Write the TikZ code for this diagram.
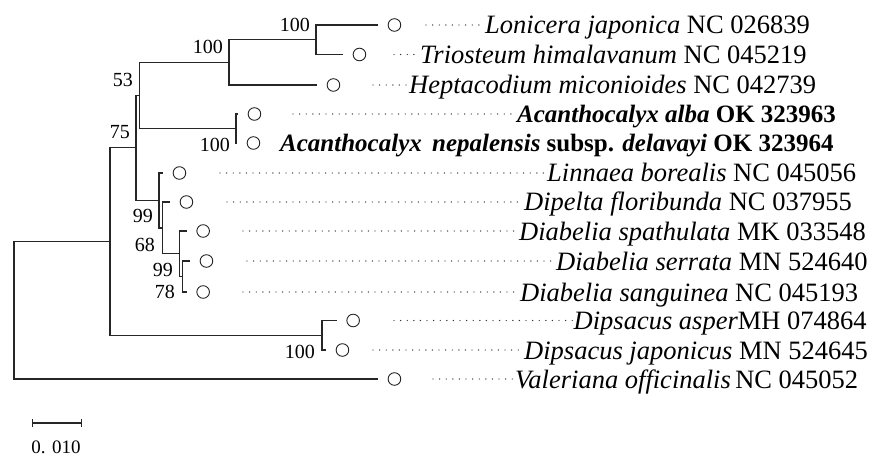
\documentclass[tikz,border=0pt]{standalone}
\usepackage{fontspec}
\setmainfont{Liberation Serif}
\usetikzlibrary{positioning,arrows.meta}

\begin{document}
\begin{tikzpicture}[x=1pt, y=-1pt,
    branch/.style={line width=1.2pt, draw=black!85},
    leaf/.style={circle, draw=black!85, line width=0.9pt, minimum size=12.6pt, inner sep=0pt},
    leader/.style={line width=1.4pt, dash pattern=on 0pt off 6.6pt, line cap=round, draw=black!80},
    taxon/.style={anchor=base west, inner sep=0pt, font=\fontsize{26.5}{28}\selectfont},
    ours/.style={taxon, font=\fontsize{25}{27}\selectfont\bfseries},
    boot/.style={anchor=east, inner sep=0pt, font=\fontsize{20}{22}\selectfont}]

  \fill[white] (0,0) rectangle (872,457);
  \useasboundingbox (0,0) rectangle (872,457);

  % internal nodes
  \coordinate (nR) at (14,310.3);
  \coordinate (nD) at (110,241.6);
  \coordinate (nB) at (136,147.9);
  \coordinate (nA) at (139.5,95.4);
  \coordinate (nE) at (229,62.4);
  \coordinate (nF) at (316,39.75);
  \coordinate (nG) at (236,128.5);
  \coordinate (nC) at (159,200.4);
  \coordinate (nH) at (162.7,227.9);
  \coordinate (nI) at (179.3,253.75);
  \coordinate (nJ) at (182.7,276.5);
  \coordinate (nK) at (322,335.25);

  % branch tips
  \coordinate (tLon) at (378,25);
  \coordinate (tTri) at (343,54.5);
  \coordinate (tHep) at (317,85);
  \coordinate (tAlb) at (238,114);
  \coordinate (tNep) at (237,143);
  \coordinate (tLin) at (163,173);
  \coordinate (tDip) at (170,202);
  \coordinate (tSpa) at (186.7,231);
  \coordinate (tSer) at (190,261);
  \coordinate (tSan) at (186.7,292);
  \coordinate (tAsp) at (336.7,320.5);
  \coordinate (tJap) at (326,350);
  \coordinate (tVal) at (378,379);

  % branches
  \draw[branch] (nR) |- (nD);
  \draw[branch] (nR) |- (tVal);
  \draw[branch] (nD) |- (nB);
  \draw[branch] (nD) |- (nK);
  \draw[branch] (nB) |- (nA);
  \draw[branch] (nB) |- (nC);
  \draw[branch] (nA) |- (nE);
  \draw[branch] (nA) |- (nG);
  \draw[branch] (nE) |- (nF);
  \draw[branch] (nE) |- (tHep);
  \draw[branch] (nF) |- (tLon);
  \draw[branch] (nF) |- (tTri);
  \draw[branch] (nG) |- (tAlb);
  \draw[branch] (nG) |- (tNep);
  \draw[branch] (nC) |- (tLin);
  \draw[branch] (nC) |- (nH);
  \draw[branch] (nH) |- (tDip);
  \draw[branch] (nH) |- (nI);
  \draw[branch] (nI) |- (tSpa);
  \draw[branch] (nI) |- (nJ);
  \draw[branch] (nJ) |- (tSer);
  \draw[branch] (nJ) |- (tSan);
  \draw[branch] (nK) |- (tAsp);
  \draw[branch] (nK) |- (tJap);

  % leaf markers
  \node[leaf, right=9.7pt of tLon] (cLon) {};
  \node[leaf, right=9.7pt of tTri] (cTri) {};
  \node[leaf, right=9.7pt of tHep] (cHep) {};
  \node[leaf, right=9.7pt of tAlb] (cAlb) {};
  \node[leaf, right=9.7pt of tNep] (cNep) {};
  \node[leaf, right=9.7pt of tLin] (cLin) {};
  \node[leaf, right=9.7pt of tDip] (cDip) {};
  \node[leaf, right=9.7pt of tSpa] (cSpa) {};
  \node[leaf, right=9.7pt of tSer] (cSer) {};
  \node[leaf, right=9.7pt of tSan] (cSan) {};
  \node[leaf, right=9.7pt of tAsp] (cAsp) {};
  \node[leaf, right=9.7pt of tJap] (cJap) {};
  \node[leaf, right=9.7pt of tVal] (cVal) {};

  % taxon names
  \node[taxon] (lLon) at (485,34) {\textit{Lonicera japonica} NC 026839};
  \node[taxon] (lTri) at (420,63.5) {\textit{Triosteum himalavanum} NC 045219};
  \node[taxon] (lHep) at (409,94) {\textit{Heptacodium miconioides} NC 042739};
  \node[ours] (lAlb) at (517,123) {\textit{Acanthocalyx alba} OK 323963};
  \node[ours] (lNep) at (280,152) {\textit{Acanthocalyx\hspace{4pt} nepalensis} subsp. \textit{delavayi} OK 323964};
  \node[taxon] (lLin) at (547,182) {\textit{Linnaea borealis} NC 045056};
  \node[taxon] (lDip) at (524,211) {\textit{Dipelta floribunda} NC 037955};
  \node[taxon] (lSpa) at (519,240) {\textit{Diabelia spathulata} MK 033548};
  \node[taxon] (lSer) at (556,270) {\textit{Diabelia serrata} MN 524640};
  \node[taxon] (lSan) at (520,301) {\textit{Diabelia sanguinea} NC 045193};
  \node[taxon] (lAsp) at (573.5,329.5) {\textit{Dipsacus asper}MH 074864};
  \node[taxon] (lJap) at (524,359) {\textit{Dipsacus japonicus} MN 524645};
  \node[taxon] (lVal) at (515,388) {\textit{Valeriana officinalis}\,NC 045052};

  % dotted leaders
  \coordinate (dLon) at (426,25);
  \coordinate (dTri) at (394,54.5);
  \coordinate (dHep) at (373,85);
  \coordinate (dAlb) at (293,114);
  \coordinate (dLin) at (220,173);
  \coordinate (dDip) at (227,202);
  \coordinate (dSpa) at (243,231);
  \coordinate (dSer) at (247,261);
  \coordinate (dSan) at (243,292);
  \coordinate (dAsp) at (394,320.5);
  \coordinate (dJap) at (373,350);
  \coordinate (dVal) at (433,379);
  \draw[leader] (dLon) -- ([xshift=-1pt]dLon -| lLon.west);
  \draw[leader] (dTri) -- ([xshift=-1pt]dTri -| lTri.west);
  \draw[leader] (dHep) -- ([xshift=-1pt]dHep -| lHep.west);
  \draw[leader] (dAlb) -- ([xshift=-1pt]dAlb -| lAlb.west);
  \draw[leader] (dLin) -- ([xshift=-1pt]dLin -| lLin.west);
  \draw[leader] (dDip) -- ([xshift=-1pt]dDip -| lDip.west);
  \draw[leader] (dSpa) -- ([xshift=-1pt]dSpa -| lSpa.west);
  \draw[leader] (dSer) -- ([xshift=-1pt]dSer -| lSer.west);
  \draw[leader] (dSan) -- ([xshift=-1pt]dSan -| lSan.west);
  \draw[leader] (dAsp) -- ([xshift=-1pt]dAsp -| lAsp.west);
  \draw[leader] (dJap) -- ([xshift=-1pt]dJap -| lJap.west);
  \draw[leader] (dVal) -- ([xshift=-1pt]dVal -| lVal.west);

  % bootstrap values
  \node[boot] (bF) at (310,25) {100};
  \node[boot] (bE) at (223,47) {100};
  \node[boot] (bA) at (133,80) {53};
  \node[boot] (bB) at (130,132) {75};
  \node[boot] (bG) at (230,145) {100};
  \node[boot] (bC) at (153,216) {99};
  \node[boot] (bH) at (155,245) {68};
  \node[boot] (bI) at (173,270) {99};
  \node[boot] (bJ) at (175,292) {78};
  \node[boot] (bK) at (315,352) {100};

  % scale bar
  \coordinate (sL) at (32,423);
  \coordinate (sR) at (82,423);
  \draw[branch, {Bar[width=8pt]}-{Bar[width=8pt]}] (sL) -- (sR);
  \node[font=\fontsize{19}{21}\selectfont, inner sep=0pt] (sLab) at (56,447) {0. 010};
\end{tikzpicture}
\end{document}
